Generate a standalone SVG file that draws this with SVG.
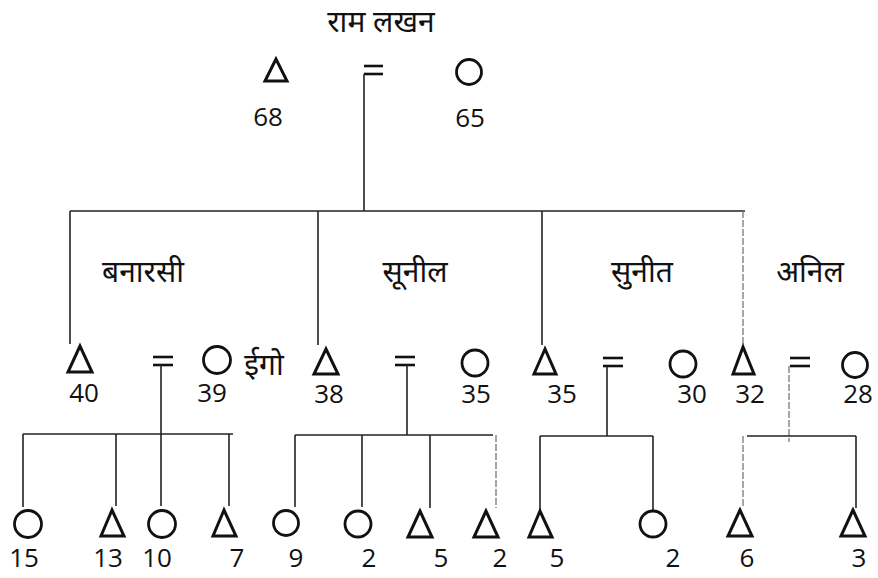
<svg xmlns="http://www.w3.org/2000/svg" width="878" height="578" viewBox="0 0 878 578">
<style>
.bg{fill:#fff}
.ln{stroke:#222;stroke-width:1.6;fill:none}
.fd{stroke:#777;stroke-width:1.3;fill:none;stroke-dasharray:7 2}
.eq{stroke:#111;stroke-width:2.6;fill:none}
.tri{fill:none;stroke:#111;stroke-width:3;stroke-linejoin:miter}
.cir{fill:none;stroke:#111;stroke-width:2.8}
.age{font-family:"Open Sans","Liberation Sans",sans-serif;font-size:26px;fill:#111;text-anchor:middle}
.nm{font-family:"Noto Sans","Noto Sans CJK SC",sans-serif;font-size:30px;font-weight:normal;fill:#111;text-anchor:middle}
</style>
<rect class="bg" x="0" y="0" width="878" height="578"/>
<g id="connectors">
<!-- generation 1 -->
<line class="eq" x1="364" y1="66" x2="383" y2="66"/>
<line class="eq" x1="364" y1="74" x2="383" y2="74"/>
<line class="ln" x1="364" y1="74" x2="364" y2="211"/>
<line class="ln" x1="70" y1="211" x2="745" y2="211"/>
<line class="ln" x1="70" y1="211" x2="70" y2="344"/>
<line class="ln" x1="318" y1="211" x2="318" y2="345"/>
<line class="ln" x1="542" y1="211" x2="542" y2="345"/>
<line class="fd" x1="743" y1="211" x2="743" y2="345"/>
<!-- couple 1 -->
<line class="eq" x1="153" y1="357" x2="173" y2="357"/>
<line class="eq" x1="153" y1="365" x2="173" y2="365"/>
<line class="ln" x1="161" y1="365" x2="161" y2="434"/>
<line class="ln" x1="23" y1="434" x2="233" y2="434"/>
<line class="ln" x1="23" y1="434" x2="23" y2="507"/>
<line class="ln" x1="116" y1="434" x2="116" y2="506"/>
<line class="ln" x1="161" y1="434" x2="161" y2="506"/>
<line class="ln" x1="229" y1="434" x2="229" y2="506"/>
<!-- couple 2 -->
<line class="eq" x1="395" y1="357" x2="415" y2="357"/>
<line class="eq" x1="395" y1="365" x2="415" y2="365"/>
<line class="ln" x1="407" y1="365" x2="407" y2="435"/>
<line class="ln" x1="295" y1="435" x2="493" y2="435"/>
<line class="ln" x1="295" y1="435" x2="295" y2="507"/>
<line class="ln" x1="362" y1="435" x2="362" y2="507"/>
<line class="ln" x1="430" y1="435" x2="430" y2="508"/>
<line class="fd" x1="496" y1="435" x2="496" y2="508"/>
<!-- couple 3 -->
<line class="eq" x1="603" y1="358" x2="623" y2="358"/>
<line class="eq" x1="603" y1="366" x2="623" y2="366"/>
<line class="ln" x1="607" y1="366" x2="607" y2="436"/>
<line class="ln" x1="540" y1="436" x2="653" y2="436"/>
<line class="ln" x1="540" y1="436" x2="540" y2="510"/>
<line class="ln" x1="653" y1="436" x2="653" y2="510"/>
<!-- couple 4 -->
<line class="eq" x1="790" y1="358" x2="810" y2="358"/>
<line class="eq" x1="790" y1="366" x2="810" y2="366"/>
<line class="fd" x1="789" y1="366" x2="789" y2="442"/>
<line class="ln" x1="747" y1="436" x2="856" y2="436"/>
<line class="fd" x1="743" y1="436" x2="743" y2="507"/>
<line class="ln" x1="856" y1="436" x2="856" y2="508"/>
</g>
<text class="nm" x="381" y="32">राम लखन</text>
<text class="nm" x="143" y="282">बनारसी</text>
<text class="nm" x="415" y="282">सूनील</text>
<text class="nm" x="642" y="282">सुनीत</text>
<text class="nm" x="810" y="282">अनिल</text>
<g id="n-ramlakhan-m"><polygon class="tri" points="276,59 265,81 287,81"/><text class="age" x="268" y="126">68</text></g>
<g id="n-ramlakhan-f"><circle class="cir" cx="469" cy="72" r="12.5"/><text class="age" x="470" y="127">65</text></g>
<g id="n-banarasi"><polygon class="tri" points="80,346 68,372 92,372"/><text class="age" x="84" y="402">40</text></g>
<g id="n-banarasi-w"><circle class="cir" cx="217" cy="360" r="13.5"/><text class="age" x="212" y="402">39</text><text class="nm" x="264" y="375">ईगो</text></g>
<g id="n-sunil"><polygon class="tri" points="326,349 314,374 338,374"/><text class="age" x="329" y="403">38</text></g>
<g id="n-sunil-w"><circle class="cir" cx="475" cy="363" r="13"/><text class="age" x="476" y="403">35</text></g>
<g id="n-suneet"><polygon class="tri" points="545,349 534,374 556,374"/><text class="age" x="562" y="403">35</text></g>
<g id="n-suneet-w"><circle class="cir" cx="683" cy="364" r="13"/><text class="age" x="692" y="403">30</text></g>
<g id="n-anil"><polygon class="tri" points="743,347 733,374 754,374"/><text class="age" x="750" y="403">32</text></g>
<g id="n-anil-w"><circle class="cir" cx="855" cy="365" r="12.5"/><text class="age" x="858" y="403">28</text></g>
<g id="n-c1"><circle class="cir" cx="28" cy="524" r="13.5"/><text class="age" x="24" y="567">15</text></g>
<g id="n-c2"><polygon class="tri" points="112,510 101,536 124,536"/><text class="age" x="108" y="567">13</text></g>
<g id="n-c3"><circle class="cir" cx="162" cy="524" r="13.5"/><text class="age" x="157" y="567">10</text></g>
<g id="n-c4"><polygon class="tri" points="224,510 213,536 236,536"/><text class="age" x="237" y="567">7</text></g>
<g id="n-c5"><circle class="cir" cx="286" cy="523" r="12.5"/><text class="age" x="296" y="567">9</text></g>
<g id="n-c6"><circle class="cir" cx="358" cy="524" r="13"/><text class="age" x="369" y="567">2</text></g>
<g id="n-c7"><polygon class="tri" points="420,511 408,537 432,537"/><text class="age" x="441" y="567">5</text></g>
<g id="n-c8"><polygon class="tri" points="486,511 474,537 498,537"/><text class="age" x="500" y="567">2</text></g>
<g id="n-c9"><polygon class="tri" points="540,511 529,537 552,537"/><text class="age" x="557" y="567">5</text></g>
<g id="n-c10"><circle class="cir" cx="653" cy="524" r="13"/><text class="age" x="673" y="567">2</text></g>
<g id="n-c11"><polygon class="tri" points="740,510 728,536 752,536"/><text class="age" x="747" y="567">6</text></g>
<g id="n-c12"><polygon class="tri" points="853,510 841,536 865,536"/><text class="age" x="859" y="567">3</text></g>
</svg>
